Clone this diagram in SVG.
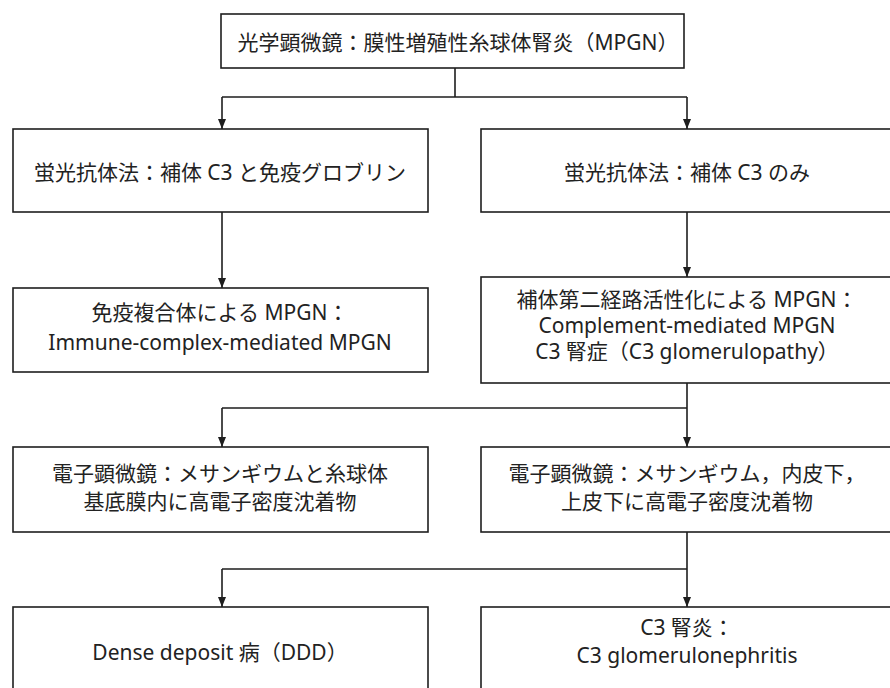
<svg xmlns="http://www.w3.org/2000/svg" width="890" height="688" viewBox="0 0 890 688">
<defs>
<style>
.box{fill:#fff;stroke:#1e1e1e;stroke-width:1.6}
.t{font-family:"Noto Sans","Noto Sans CJK JP",sans-serif;font-size:21px;fill:#222;text-anchor:middle;dominant-baseline:central}
.c{fill:none;stroke:#1e1e1e;stroke-width:1.6}
</style>
<marker id="ah" viewBox="0 0 10 10" refX="10" refY="5" markerWidth="10" markerHeight="10" markerUnits="userSpaceOnUse" orient="auto">
<path d="M0,1 L10,5 L0,9 Z" fill="#1e1e1e"/>
</marker>
</defs>
<rect width="890" height="688" fill="#fff"/>
<g id="connectors">
<path class="c" d="M455,68 V97 M222,97 H687"/>
<path class="c" d="M222,97 V129" marker-end="url(#ah)"/>
<path class="c" d="M687,97 V129" marker-end="url(#ah)"/>
<path class="c" d="M222,212 V288" marker-end="url(#ah)"/>
<path class="c" d="M687,212 V277" marker-end="url(#ah)"/>
<path class="c" d="M687,383 V408 M222,408 H687"/>
<path class="c" d="M222,408 V447" marker-end="url(#ah)"/>
<path class="c" d="M687,408 V447" marker-end="url(#ah)"/>
<path class="c" d="M687,532 V569 M222,569 H687"/>
<path class="c" d="M222,569 V607" marker-end="url(#ah)"/>
<path class="c" d="M687,569 V607" marker-end="url(#ah)"/>
</g>
<g id="n-lm">
<rect class="box" x="221" y="14" width="463" height="54"/>
<text class="t" x="458" y="42">光学顕微鏡：膜性増殖性糸球体腎炎（MPGN）</text>
</g>
<g id="n-if-ig">
<rect class="box" x="13" y="129" width="415" height="83"/>
<text class="t" x="220" y="172">蛍光抗体法：補体 C3 と免疫グロブリン</text>
</g>
<g id="n-if-c3">
<rect class="box" x="481" y="129" width="420" height="83"/>
<text class="t" x="687" y="172">蛍光抗体法：補体 C3 のみ</text>
</g>
<g id="n-ic">
<rect class="box" x="13" y="288" width="415" height="84"/>
<text class="t" x="220" y="312">免疫複合体による MPGN：</text>
<text class="t" x="220" y="342">Immune-complex-mediated MPGN</text>
</g>
<g id="n-cm">
<rect class="box" x="481" y="277" width="420" height="106"/>
<text class="t" x="687" y="299">補体第二経路活性化による MPGN：</text>
<text class="t" x="687" y="325">Complement-mediated MPGN</text>
<text class="t" x="687" y="351">C3 腎症（C3 glomerulopathy）</text>
</g>
<g id="n-em1">
<rect class="box" x="13" y="447" width="415" height="85"/>
<text class="t" x="220" y="473">電子顕微鏡：メサンギウムと糸球体</text>
<text class="t" x="220" y="501">基底膜内に高電子密度沈着物</text>
</g>
<g id="n-em2">
<rect class="box" x="481" y="447" width="420" height="85"/>
<text class="t" x="687" y="473">電子顕微鏡：メサンギウム，内皮下，</text>
<text class="t" x="687" y="501">上皮下に高電子密度沈着物</text>
</g>
<g id="n-ddd">
<rect class="box" x="13" y="607" width="415" height="95"/>
<text class="t" x="220" y="652">Dense deposit 病（DDD）</text>
</g>
<g id="n-c3gn">
<rect class="box" x="481" y="607" width="420" height="95"/>
<text class="t" x="687" y="627">C3 腎炎：</text>
<text class="t" x="687" y="655">C3 glomerulonephritis</text>
</g>
</svg>
